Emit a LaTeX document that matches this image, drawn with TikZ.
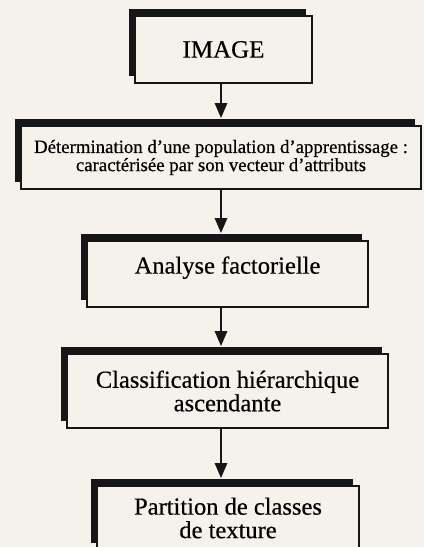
\documentclass[tikz,border=0pt]{standalone}
\usepackage{fontspec}
\setmainfont[FakeBold=0.5]{Liberation Serif}
\usepackage{xcolor}
\usepackage{tikz}
\usetikzlibrary{arrows.meta,shadows,calc}

\definecolor{paper}{RGB}{244,242,235}
\definecolor{ink}{RGB}{22,22,22}

\begin{document}
\begin{tikzpicture}[
  x=1pt, y=-1pt,
  arr/.style={-{Triangle[length=15pt,width=12pt,fill=ink]}, line width=2.6pt,
              draw=ink},
  flowbox/.style={rectangle, draw=ink, line width=1.6pt, fill=paper,
                  inner sep=0pt, align=center,
                  drop shadow={shadow xshift=-6pt, shadow yshift=7pt,
                               opacity=1, fill=ink}},
  bigtxt/.style={font=\fontsize{24.5}{23.5}\selectfont},
  smalltxt/.style={font=\fontsize{18.8}{16}\selectfont},
]

\useasboundingbox (0,0) rectangle (424,547);
\clip (0,0) rectangle (424,547);
\fill[paper] (0,0) rectangle (424,547);

\coordinate (axis) at (221,0);

%% ===== Boxes =====
\node[flowbox, minimum width=177pt, minimum height=67pt,
      font=\fontsize{25}{27}\selectfont] (img) at (223.5,49.5) {IMAGE};

\node[flowbox, smalltxt, minimum width=400pt, minimum height=63pt] (popu)
  at (221,157.5)
  {Détermination d'une population d'apprentissage :\\
   caractérisée par son vecteur d'attributs};

\node[flowbox, bigtxt, minimum width=281pt, minimum height=66pt,
      text depth=18pt] (anafac) at (227.5,274) {Analyse factorielle};

\node[flowbox, bigtxt, minimum width=321pt, minimum height=74pt] (cah)
  at (227.5,391) {Classification hiérarchique\\ ascendante};

\node[flowbox, bigtxt, minimum width=262pt, minimum height=64pt] (part)
  at (228,518) {Partition de classes\\ de texture};

%% ===== Arrows (tip on the shadow edge) =====
\draw[arr] (img.south -| axis) -- ($(popu.north -| axis)+(0,-7)$);
\draw[arr] (popu.south -| axis) -- ($(anafac.north -| axis)+(0,-7)$);
\draw[arr] (anafac.south -| axis) -- ($(cah.north -| axis)+(0,-7)$);
\draw[arr] (cah.south -| axis) -- ($(part.north -| axis)+(0,-7)$);

\end{tikzpicture}
\end{document}
